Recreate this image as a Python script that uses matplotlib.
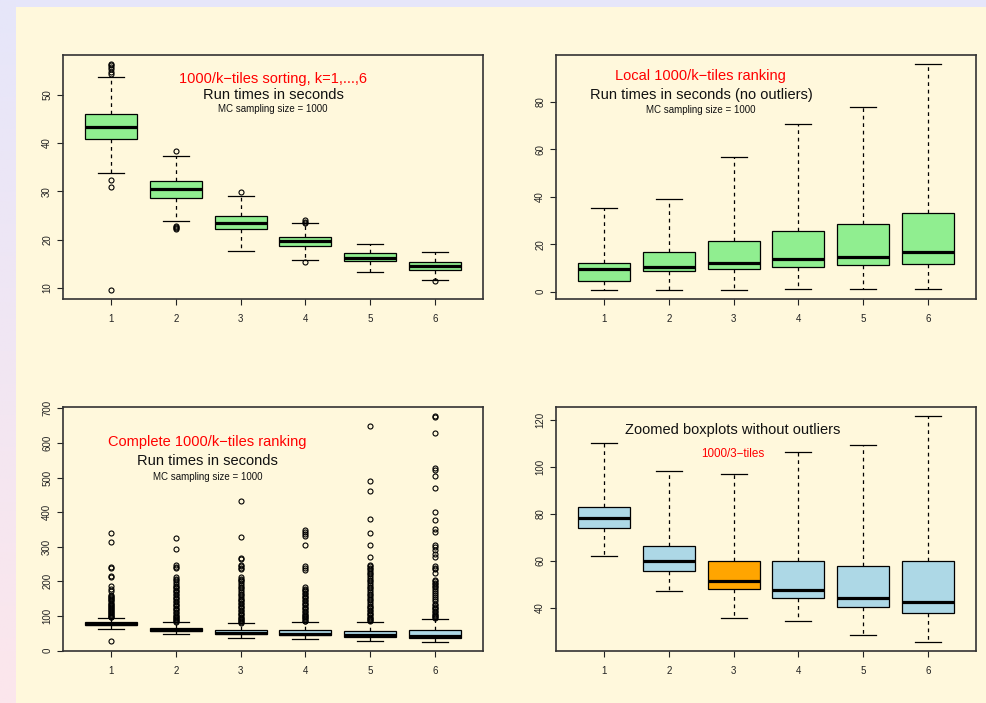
import numpy as np
import matplotlib
matplotlib.use("Agg")
from matplotlib import pyplot as plt

plt.rcParams['font.family'] = ['Liberation Sans', 'DejaVu Sans']

groups = [1, 2, 3, 4, 5, 6]

# 1000/k-tiles sorting (seconds)
sort_q1 = [40.8, 28.6, 22.1, 18.6, 15.6, 13.8]
sort_med = [43.3, 30.5, 23.4, 19.7, 16.3, 14.6]
sort_q3 = [45.9, 32.1, 24.8, 20.5, 17.2, 15.3]
sort_lo = [33.7, 23.8, 17.7, 15.8, 13.3, 11.7]
sort_hi = [53.6, 37.2, 29.0, 23.5, 19.2, 17.4]
sort_out = [
    [56.3, 56.0, 55.6, 55.2, 54.6, 54.3, 32.4, 30.9, 9.6],
    [38.3, 22.9, 22.7, 22.4, 22.1],
    [29.8],
    [24.0, 23.7, 23.4, 15.3],
    [],
    [11.4],
]

# local 1000/k-tiles ranking (no outliers)
local_q1 = [4.5, 8.7, 9.7, 10.4, 11.1, 11.5]
local_med = [9.7, 10.5, 12.2, 13.8, 14.7, 16.6]
local_q3 = [12.2, 16.6, 21.5, 25.4, 28.4, 33.1]
local_lo = [0.7, 0.7, 0.8, 1.1, 1.1, 1.3]
local_hi = [35.1, 39.0, 56.6, 70.5, 77.6, 95.9]

# complete 1000/k-tiles ranking
comp_q1 = [74.2, 55.8, 47.9, 44.2, 40.6, 37.9]
comp_med = [78.2, 59.9, 51.4, 47.8, 44.2, 42.7]
comp_q3 = [83.1, 66.4, 60.1, 59.9, 57.8, 59.8]
comp_lo = [62.2, 47.1, 35.9, 34.6, 28.6, 25.6]
comp_hi = [95.3, 81.8, 79.0, 83.8, 83.8, 92.4]
comp_out = [
    [340, 315, 243, 240, 217, 212, 186, 178, 172, 160, 157, 154, 151, 148,
     145, 142, 139, 136, 133, 130, 127, 124, 121, 118, 115, 112, 109, 106,
     103, 100, 98, 96, 29],
    [326, 294, 247, 243, 240, 214, 208, 203, 198, 192, 188, 184, 180, 176,
     172, 168, 164, 160, 156, 152, 148, 144, 140, 136, 132, 128, 124, 120,
     116, 112, 108, 104, 100, 97, 94, 91, 88, 85, 83],
    [432, 327, 268, 266, 248, 244, 240, 235, 214, 208, 204, 200, 195, 190,
     185, 180, 175, 170, 165, 160, 155, 150, 146, 142, 138, 134, 130, 126,
     122, 118, 114, 110, 106, 102, 98, 95, 92, 89, 86, 83, 81],
    [350, 343, 336, 330, 305, 246, 240, 232, 183, 179, 175, 171, 167, 163,
     159, 155, 151, 147, 143, 139, 135, 131, 127, 123, 119, 115, 111, 107,
     103, 99, 96, 93, 90, 87, 85],
    [650, 490, 460, 381, 340, 305, 270, 248, 244, 240, 235, 230, 225, 220,
     215, 210, 205, 200, 195, 190, 185, 180, 175, 170, 165, 160, 155, 150,
     145, 140, 135, 130, 126, 122, 118, 114, 110, 106, 102, 98, 95, 92, 89,
     86],
    [678, 675, 628, 528, 522, 505, 470, 401, 378, 352, 342, 305, 300, 291,
     280, 270, 245, 240, 235, 225, 205, 200, 196, 192, 188, 184, 178, 172,
     166, 160, 154, 148, 142, 136, 131, 127, 123, 119, 115, 111, 107, 103,
     100, 97, 94],
]

# zoomed view: longer whiskers, no outliers
zoom_hi = [110.1, 98.4, 96.8, 106.4, 109.5, 121.6]

BG = '#FFF8DC'


def make_stats(q1, med, q3, lo, hi, out=None):
    stats = []
    for i in range(len(q1)):
        stats.append(dict(q1=q1[i], med=med[i], q3=q3[i], whislo=lo[i],
                          whishi=hi[i], fliers=out[i] if out else []))
    return stats


def draw_box(ax, stats, color, ylim, yticks):
    res = ax.bxp(stats, positions=groups, widths=0.8, capwidths=0.4,
                 patch_artist=True, showfliers=True,
                 boxprops=dict(facecolor=color, edgecolor='black', linewidth=0.9),
                 medianprops=dict(color='black', linewidth=2.3),
                 whiskerprops=dict(color='black', linewidth=0.9, linestyle=(0, (3, 3))),
                 capprops=dict(color='black', linewidth=0.9),
                 flierprops=dict(marker='o', markerfacecolor='none',
                                 markeredgecolor='black', markersize=3.6,
                                 markeredgewidth=0.8))
    ax.set_facecolor(BG)
    ax.set_xlim(0.26, 6.74)
    ax.set_ylim(*ylim)
    ax.set_xticks(groups)
    ax.set_xticklabels([str(g) for g in groups])
    ax.set_yticks(yticks)
    ax.set_yticklabels([str(t) for t in yticks], rotation=90, va='center')
    ax.tick_params(length=4.3, width=0.8, labelsize=7, colors='#222222')
    ax.tick_params(axis='x', pad=6.5)
    ax.tick_params(axis='y', pad=3.5)
    for s in ax.spines.values():
        s.set_color('#333333')
        s.set_linewidth(1.2)
    return res


fig = plt.figure(figsize=(9.86, 7.03), dpi=100, facecolor=BG)

# lavender frame strips on top and left
top = fig.add_axes([0, 1 - 7 / 703, 1, 7 / 703])
top.axis('off')
top.add_patch(plt.Rectangle((0, 0), 1, 1, color='#E6E6FA', transform=top.transAxes))
left = fig.add_axes([0, 0, 16 / 986, 1])
grad = np.linspace(0, 1, 256).reshape(-1, 1)
cmap = matplotlib.colors.LinearSegmentedColormap.from_list('frame', ['#E6E6FA', '#FCE6EC'])
left.imshow(grad, aspect='auto', cmap=cmap, extent=[0, 1, 0, 1])
left.axis('off')

w, h = 420 / 986, 244 / 703
x1, x2 = 63 / 986, 556 / 986
y1, y2 = 1 - 299 / 703, 1 - 651 / 703

# top left: sorting
ax1 = fig.add_axes([x1, y1, w, h])
draw_box(ax1, make_stats(sort_q1, sort_med, sort_q3, sort_lo, sort_hi, sort_out),
         '#90EE90', (7.73, 58.17), [10, 20, 30, 40, 50])
ax1.text(0.5, 0.902, '1000/k\u2212tiles sorting, k=1,...,6', color='red',
         fontsize=10.5, ha='center', va='center', transform=ax1.transAxes)
ax1.text(0.5, 0.836, 'Run times in seconds', color='#111111',
         fontsize=10.5, ha='center', va='center', transform=ax1.transAxes)
ax1.text(0.5, 0.779, 'MC sampling size = 1000', color='#111111',
         fontsize=7, ha='center', va='center', transform=ax1.transAxes)

# top right: local ranking
ax2 = fig.add_axes([x2, y1, w, h])
draw_box(ax2, make_stats(local_q1, local_med, local_q3, local_lo, local_hi),
         '#90EE90', (-3.07, 99.7), [0, 20, 40, 60, 80])
ax2.text(0.345, 0.914, 'Local 1000/k\u2212tiles ranking', color='red',
         fontsize=10.5, ha='center', va='center', transform=ax2.transAxes)
ax2.text(0.345, 0.836, 'Run times in seconds (no outliers)', color='#111111',
         fontsize=10.5, ha='center', va='center', transform=ax2.transAxes)
ax2.text(0.345, 0.775, 'MC sampling size = 1000', color='#111111',
         fontsize=7, ha='center', va='center', transform=ax2.transAxes)

# bottom left: complete ranking
ax3 = fig.add_axes([x1, y2, w, h])
draw_box(ax3, make_stats(comp_q1, comp_med, comp_q3, comp_lo, comp_hi, comp_out),
         '#ADD8E6', (-1.1, 704.1), [0, 100, 200, 300, 400, 500, 600, 700])
ax3.text(0.344, 0.857, 'Complete 1000/k\u2212tiles ranking', color='red',
         fontsize=10.5, ha='center', va='center', transform=ax3.transAxes)
ax3.text(0.344, 0.779, 'Run times in seconds', color='#111111',
         fontsize=10.5, ha='center', va='center', transform=ax3.transAxes)
ax3.text(0.344, 0.713, 'MC sampling size = 1000', color='#111111',
         fontsize=7, ha='center', va='center', transform=ax3.transAxes)

# bottom right: zoomed, 1000/3-tiles highlighted
ax4 = fig.add_axes([x2, y2, w, h])
res = draw_box(ax4, make_stats(comp_q1, comp_med, comp_q3, comp_lo, zoom_hi),
               '#ADD8E6', (21.76, 125.44), [40, 60, 80, 100, 120])
res['boxes'][2].set_facecolor('#FFA500')
ax4.text(0.421, 0.906, 'Zoomed boxplots without outliers', color='#111111',
         fontsize=10.5, ha='center', va='center', transform=ax4.transAxes)
ax4.text(0.421, 0.807, '1000/3\u2212tiles', color='red',
         fontsize=8.4, ha='center', va='center', transform=ax4.transAxes)

fig.savefig('out.png', dpi=100, facecolor=BG)
